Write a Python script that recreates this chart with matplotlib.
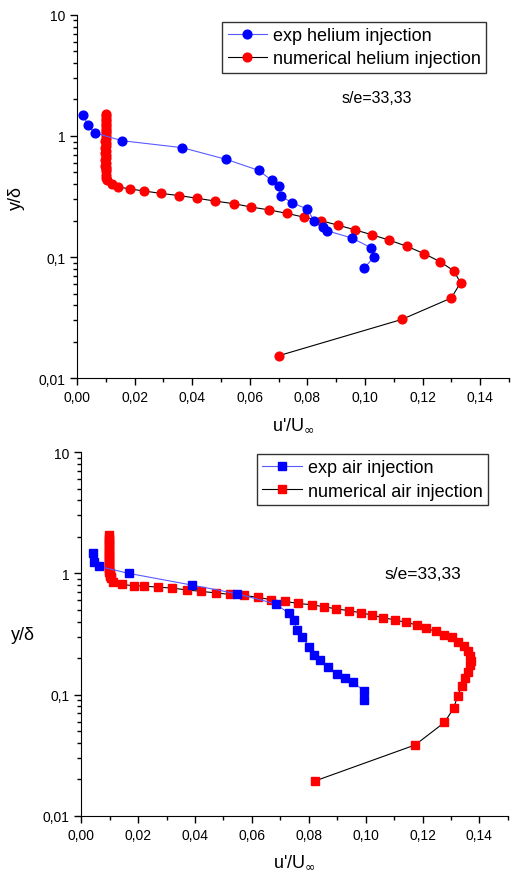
import matplotlib
matplotlib.use("Agg")
import matplotlib.pyplot as plt
from matplotlib.ticker import FixedLocator, FuncFormatter, LogLocator, NullFormatter

plt.rcParams['font.family'] = ['Liberation Sans', 'DejaVu Sans']

# top: helium injection
exp_he_x = [0.0020, 0.0038, 0.0061, 0.0156, 0.0366, 0.0519, 0.0631, 0.0676, 0.0701,
            0.0707, 0.0748, 0.0799, 0.0823, 0.0855, 0.0869, 0.0954, 0.1020, 0.1031, 0.0997]
exp_he_y = [1.49, 1.23, 1.06, 0.914, 0.80, 0.64, 0.52, 0.43, 0.39,
            0.32, 0.28, 0.25, 0.20, 0.178, 0.165, 0.144, 0.12, 0.10, 0.081]

num_he_x = [0.0100, 0.0100, 0.0099, 0.0099, 0.0100, 0.0099, 0.0099, 0.0100, 0.0099, 0.0099,
            0.0099, 0.0098, 0.0099, 0.0099, 0.0098, 0.0099, 0.0098, 0.0099, 0.0099, 0.0098,
            0.0099, 0.0098, 0.0099, 0.0099, 0.0100, 0.0100, 0.0101, 0.0103,
            0.0120, 0.0143, 0.0184, 0.0234, 0.0290, 0.0355, 0.0417, 0.0480, 0.0545, 0.0605,
            0.0668, 0.0728, 0.0787, 0.0846, 0.0905, 0.0965, 0.1024, 0.1085, 0.1145, 0.1205,
            0.1260, 0.1309, 0.1332, 0.1300, 0.1128, 0.0702]
num_he_y = [1.52, 1.45, 1.38, 1.32, 1.26, 1.20, 1.15, 1.10, 1.05, 1.00,
            0.95, 0.91, 0.87, 0.83, 0.79, 0.75, 0.72, 0.69, 0.66, 0.63,
            0.60, 0.57, 0.55, 0.53, 0.51, 0.48, 0.45, 0.43,
            0.40, 0.38, 0.365, 0.351, 0.336, 0.322, 0.306, 0.29, 0.276, 0.259,
            0.245, 0.23, 0.214, 0.20, 0.184, 0.168, 0.153, 0.138, 0.123, 0.107,
            0.092, 0.077, 0.0614, 0.046, 0.0306, 0.0154]

# bottom: air injection
exp_air_x = [0.0040, 0.0046, 0.0063, 0.0167, 0.0390, 0.0547, 0.0684, 0.0729, 0.0747,
             0.0758, 0.0778, 0.0801, 0.0818, 0.0840, 0.0869, 0.0898, 0.0927, 0.0956,
             0.0996, 0.0996]
exp_air_y = [1.48, 1.24, 1.14, 1.00, 0.80, 0.68, 0.56, 0.47, 0.41,
             0.344, 0.298, 0.249, 0.213, 0.192, 0.168, 0.148, 0.136, 0.126,
             0.107, 0.091]

num_air_x = [0.0099, 0.0099, 0.0099, 0.0099, 0.0099, 0.0099, 0.0099, 0.0099, 0.0099, 0.0099,
             0.0099, 0.0099, 0.0099, 0.0099, 0.0099, 0.0099, 0.0099, 0.0099, 0.0099, 0.0100,
             0.0100, 0.0101, 0.0103, 0.0106,
             0.0113, 0.0145, 0.0184, 0.0221, 0.0270, 0.0319, 0.0372, 0.0422, 0.0474, 0.0524,
             0.0572, 0.0623, 0.0669, 0.0717, 0.0763, 0.0810, 0.0854, 0.0897, 0.0941, 0.0984,
             0.1024, 0.1062, 0.1103, 0.1141, 0.1179, 0.1214, 0.1246, 0.1277, 0.1303, 0.1325,
             0.1345, 0.1359, 0.1367, 0.1371, 0.1367, 0.1361, 0.1350, 0.1338, 0.1324, 0.1309,
             0.1277, 0.1174, 0.0821]
num_air_y = [2.06, 1.97, 1.89, 1.81, 1.74, 1.67, 1.60, 1.54, 1.48, 1.42,
             1.37, 1.32, 1.27, 1.22, 1.18, 1.14, 1.10, 1.07, 1.03, 1.00,
             0.97, 0.95, 0.93, 0.91,
             0.85, 0.81, 0.79, 0.785, 0.77, 0.756, 0.73, 0.71, 0.69, 0.67,
             0.658, 0.633, 0.606, 0.587, 0.565, 0.551, 0.53, 0.51, 0.492, 0.473,
             0.452, 0.43, 0.414, 0.394, 0.377, 0.353, 0.332, 0.311, 0.298, 0.274,
             0.254, 0.231, 0.21, 0.191, 0.174, 0.155, 0.137, 0.119, 0.098, 0.077,
             0.059, 0.0385, 0.0194]

x_ticks = [0.0, 0.02, 0.04, 0.06, 0.08, 0.10, 0.12, 0.14]
y_ticks = [0.01, 0.1, 1, 10]
y_ticklabels = ['0,01', '0,1', '1', '10']


def style_axes(ax):
    ax.set_yscale('log')
    ax.set_xlim(0, 0.15)
    ax.set_ylim(0.01, 10)
    ax.spines['top'].set_visible(False)
    ax.spines['right'].set_visible(False)
    ax.xaxis.set_major_locator(FixedLocator(x_ticks))
    ax.xaxis.set_minor_locator(FixedLocator([0.01, 0.03, 0.05, 0.07, 0.09, 0.11, 0.13, 0.15]))
    ax.xaxis.set_major_formatter(FuncFormatter(lambda v, p: ('%.2f' % v).replace('.', ',')))
    ax.yaxis.set_major_locator(FixedLocator(y_ticks))
    ax.yaxis.set_major_formatter(FuncFormatter(lambda v, p: y_ticklabels[y_ticks.index(v)] if v in y_ticks else ''))
    ax.yaxis.set_minor_locator(LogLocator(base=10, subs=range(2, 10)))
    ax.yaxis.set_minor_formatter(NullFormatter())
    ax.tick_params(which='major', direction='out', length=5, width=1, labelsize=10)
    ax.tick_params(which='minor', direction='out', length=3, width=1)
    ax.set_xlabel(r"u'/U$_{\infty}$", fontsize=13, labelpad=8)


def add_legend(ax, anchor):
    leg = ax.legend(loc='upper right', bbox_to_anchor=anchor, fontsize=13,
                    frameon=True, fancybox=False, edgecolor='black', borderpad=0.3,
                    handlelength=2.2, handletextpad=0.3, labelspacing=0.35, borderaxespad=0)
    leg.get_frame().set_linewidth(1)


fig = plt.figure(figsize=(5.14, 8.78), dpi=100)
ax1 = fig.add_axes([0.150, 0.568, 0.840, 0.414])
ax2 = fig.add_axes([0.158, 0.0695, 0.830, 0.4145])

ax1.plot(exp_he_x, exp_he_y, '-o', color='#5a5aff', lw=0.8, mfc='#0000ff', mec='#0000ff',
         ms=6.3, label='exp helium injection', zorder=3)
ax1.plot(num_he_x, num_he_y, '-o', color='black', lw=0.8, mfc='#ff0000', mec='#ff0000',
         ms=6.3, label='numerical helium injection', zorder=2)
ax1.text(0.612, 0.76, 's/e=33,33', transform=ax1.transAxes, fontsize=11.5)
style_axes(ax1)
ax1.set_ylabel('y/δ', fontsize=13, labelpad=10)
add_legend(ax1, (0.947, 0.981))

ax2.plot(exp_air_x, exp_air_y, '-s', color='#5a5aff', lw=0.8, mfc='#0000ff', mec='#0000ff',
         ms=5.5, label='exp air injection', zorder=3)
ax2.plot(num_air_x, num_air_y, '-s', color='black', lw=0.8, mfc='#ff0000', mec='#ff0000',
         ms=5.5, label='numerical air injection', zorder=2)
ax2.text(0.71, 0.655, 's/e=33,33', transform=ax2.transAxes, fontsize=12.5)
style_axes(ax2)
ax2.set_ylabel('y/δ', fontsize=13, rotation=0, labelpad=14, va='center')
add_legend(ax2, (0.953, 0.995))

fig.savefig('out.png', dpi=100)
